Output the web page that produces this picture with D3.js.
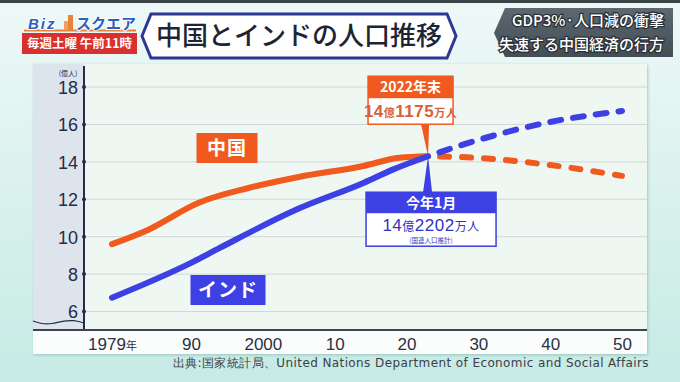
<!DOCTYPE html>
<html>
<head>
<meta charset="utf-8">
<script src="https://cdn.jsdelivr.net/npm/d3@7"></script>
<style>
  body { margin: 0; background: #d9f0ec; }
  svg { display: block; }
</style>
</head>
<body>
<svg id="chart" width="680" height="382"></svg>
<script>
// data (億人)
const chinaYears = [1979, 1984, 1991, 1998, 2005, 2014, 2019, 2023];
const chinaValues = [9.6, 10.36, 11.8, 12.6, 13.19, 13.78, 14.22, 14.3];
const indiaYears = [1979, 1990, 1994, 2005, 2014, 2018, 2023];
const indiaValues = [6.74, 8.6, 9.4, 11.5, 12.87, 13.57, 14.3];
const chinaProjYears = [2023, 2030, 2040, 2050];
const chinaProjValues = [14.3, 14.21, 13.83, 13.25];
const indiaProjYears = [2023, 2030, 2040, 2050];
const indiaProjValues = [14.3, 15.17, 16.13, 16.72];
const xTicks = [1979, 1990, 2000, 2010, 2020, 2030, 2040, 2050];
const xTickLabels = ["1979", "90", "2000", "10", "20", "30", "40", "50"];
const yTicks = [6, 8, 10, 12, 14, 16, 18];
const crossYear = 2023, crossValue = 14.3;

const ORANGE = "#f05a1e", BLUE = "#3d40e2", NAVY = "#262c48";
const JP = "'Noto Sans CJK JP', sans-serif";
const NUM = "'Liberation Sans', Arial, sans-serif";

const svg = d3.select("#chart");
const defs = svg.append("defs");

// background
const bg = defs.append("linearGradient").attr("id", "bg").attr("x1", 0).attr("y1", 0).attr("x2", 0).attr("y2", 1);
bg.append("stop").attr("offset", 0).attr("stop-color", "#eef8f7");
bg.append("stop").attr("offset", 1).attr("stop-color", "#c6ebe4");
svg.append("rect").attr("width", 680).attr("height", 382).attr("fill", "url(#bg)");
svg.append("rect").attr("width", 680).attr("height", 3).attr("fill", "#3a4446");

const sh = defs.append("filter").attr("id", "shadow").attr("x", -0.05).attr("y", -0.05).attr("width", 1.1).attr("height", 1.1);
sh.append("feDropShadow").attr("dx", 1).attr("dy", 1).attr("stdDeviation", 1.5).attr("flood-color", "#7aa9a3").attr("flood-opacity", 0.6);

// panel
const panel = { left: 33, right: 647, top: 64, axis: 330, bottom: 354 };
svg.append("rect").attr("x", panel.left).attr("y", panel.top)
  .attr("width", panel.right - panel.left).attr("height", panel.bottom - panel.top)
  .attr("fill", "#fbfdfc").attr("filter", "url(#shadow)");
svg.append("rect").attr("x", 84).attr("y", panel.top)
  .attr("width", panel.right - 84).attr("height", panel.axis - panel.top)
  .attr("fill", "#eff7f3");
svg.append("rect").attr("x", panel.left).attr("y", panel.top)
  .attr("width", 84 - panel.left).attr("height", panel.axis - panel.top)
  .attr("fill", "#dde4ec");

const x = d3.scaleLinear().domain([1979, 2050]).range([112, 622]);
const y = d3.scaleLinear().domain([6, 18]).range([311.5, 87]);

// grid
svg.append("g").selectAll("line").data(yTicks).join("line")
  .attr("x1", 84).attr("x2", panel.right)
  .attr("y1", d => y(d)).attr("y2", d => y(d))
  .attr("stroke", "#cfd6d6").attr("stroke-width", 1);

// y axis
const yAxis = svg.append("g").attr("transform", "translate(84,0)")
  .call(d3.axisLeft(y).tickValues(yTicks).tickSize(0).tickPadding(6));
yAxis.select(".domain").remove();
yAxis.selectAll("text").attr("font-family", NUM).attr("font-size", 18)
  .attr("fill", NAVY).attr("dy", "0.36em");
svg.append("g").selectAll("circle").data(yTicks).join("circle")
  .attr("cx", 84).attr("cy", d => y(d)).attr("r", 2).attr("fill", NAVY);
svg.append("line").attr("x1", 84).attr("x2", 84).attr("y1", panel.top + 2).attr("y2", panel.axis)
  .attr("stroke", NAVY).attr("stroke-width", 2);
svg.append("text").attr("x", 68).attr("y", 76).attr("text-anchor", "middle")
  .attr("font-family", JP).attr("font-size", 7).attr("fill", NAVY).text("(億人)");

// break wave
svg.append("path")
  .attr("d", d3.line().curve(d3.curveBasis)([[33, 321], [42, 324], [52, 324], [62, 321], [74, 320], [84, 323]]))
  .attr("fill", "none").attr("stroke", NAVY).attr("stroke-width", 1.2);

// x axis
svg.append("line").attr("x1", panel.left).attr("x2", panel.right).attr("y1", panel.axis).attr("y2", panel.axis)
  .attr("stroke", "#3d4552").attr("stroke-width", 2);
const xAxis = svg.append("g").attr("transform", `translate(0,${panel.axis})`)
  .call(d3.axisBottom(x).tickValues(xTicks).tickSize(0).tickPadding(8)
    .tickFormat((d, i) => xTickLabels[i]));
xAxis.select(".domain").remove();
xAxis.selectAll("text").attr("font-family", NUM).attr("font-size", 17).attr("fill", "#2b3040");
xAxis.selectAll("text").filter(d => d === 1979).each(function () {
  const t = d3.select(this).text("");
  t.append("tspan").text("1979");
  t.append("tspan").attr("font-family", JP).attr("font-size", 11).text("年");
});

// lines
const line = d3.line().x(d => x(d[0])).y(d => y(d[1])).curve(d3.curveMonotoneX);
const china = d3.zip(chinaYears, chinaValues);
const india = d3.zip(indiaYears, indiaValues);
const chinaProj = d3.zip(chinaProjYears, chinaProjValues);
const indiaProj = d3.zip(indiaProjYears, indiaProjValues);

svg.append("path").attr("d", line(chinaProj)).attr("fill", "none").attr("stroke", ORANGE)
  .attr("stroke-width", 6).attr("stroke-linecap", "round").attr("stroke-dasharray", "9 13")
  .attr("stroke-dashoffset", -12);
svg.append("path").attr("d", line(indiaProj)).attr("fill", "none").attr("stroke", BLUE)
  .attr("stroke-width", 6).attr("stroke-linecap", "round").attr("stroke-dasharray", "11 12")
  .attr("stroke-dashoffset", -12);
svg.append("path").attr("d", line(china)).attr("fill", "none").attr("stroke", ORANGE)
  .attr("stroke-width", 6).attr("stroke-linecap", "round");
svg.append("path").attr("d", line(india)).attr("fill", "none").attr("stroke", BLUE)
  .attr("stroke-width", 6).attr("stroke-linecap", "round");

// series labels
function tag(cx, cy, w, h, fill, label) {
  svg.append("rect").attr("x", cx - w / 2).attr("y", cy - h / 2).attr("width", w).attr("height", h).attr("fill", fill);
  svg.append("text").attr("x", cx).attr("y", cy).attr("dy", "0.36em").attr("text-anchor", "middle")
    .attr("font-family", JP).attr("font-weight", 700).attr("font-size", 19).attr("fill", "#fff")
    .attr("letter-spacing", 1).text(label);
}
tag(227, 148, 61, 30, ORANGE, "中国");
tag(228, 290, 75, 30, BLUE, "インド");

// annotations
const cx = x(crossYear), cy = y(crossValue);
const ob = { x: cx - 60, y: cy - 80, w: 85, hh: 22, bh: 26 };
svg.append("path").attr("d", `M${cx - 7},${ob.y + ob.hh + ob.bh} L${cx + 1},${ob.y + ob.hh + ob.bh} L${cx},${cy} Z`).attr("fill", ORANGE);
svg.append("rect").attr("x", ob.x).attr("y", ob.y).attr("width", ob.w).attr("height", ob.hh + ob.bh)
  .attr("fill", "#fff").attr("stroke", ORANGE).attr("stroke-width", 1.5);
svg.append("rect").attr("x", ob.x).attr("y", ob.y).attr("width", ob.w).attr("height", ob.hh).attr("fill", ORANGE);
svg.append("text").attr("x", ob.x + ob.w / 2).attr("y", ob.y + ob.hh / 2).attr("dy", "0.36em")
  .attr("text-anchor", "middle").attr("font-family", JP).attr("font-weight", 700).attr("font-size", 14)
  .attr("fill", "#fff").text("2022年末");
const ot = svg.append("text").attr("x", ob.x + ob.w / 2).attr("y", ob.y + ob.hh + ob.bh / 2).attr("dy", "0.36em")
  .attr("text-anchor", "middle").attr("font-family", NUM).attr("font-weight", 700).attr("fill", "#d8603a")
  .attr("letter-spacing", 0.5);
ot.append("tspan").attr("font-size", 17).text("14");
ot.append("tspan").attr("font-family", JP).attr("font-size", 11).text("億");
ot.append("tspan").attr("font-size", 17).text("1175");
ot.append("tspan").attr("font-family", JP).attr("font-size", 11).text("万人");

const bb = { x: cx - 62, y: cy + 36, w: 130, hh: 21, bh: 33 };
svg.append("path").attr("d", `M${cx},${cy} L${cx - 5},${bb.y} L${cx + 4},${bb.y} Z`).attr("fill", BLUE);
svg.append("rect").attr("x", bb.x).attr("y", bb.y).attr("width", bb.w).attr("height", bb.hh + bb.bh)
  .attr("fill", "#fff").attr("stroke", BLUE).attr("stroke-width", 1.5);
svg.append("rect").attr("x", bb.x).attr("y", bb.y).attr("width", bb.w).attr("height", bb.hh).attr("fill", BLUE);
svg.append("text").attr("x", bb.x + bb.w / 2).attr("y", bb.y + bb.hh / 2).attr("dy", "0.36em")
  .attr("text-anchor", "middle").attr("font-family", JP).attr("font-weight", 700).attr("font-size", 14)
  .attr("fill", "#fff").text("今年1月");
const bt = svg.append("text").attr("x", bb.x + bb.w / 2).attr("y", bb.y + bb.hh + 18)
  .attr("text-anchor", "middle").attr("font-family", NUM).attr("fill", "#2f34c0").attr("letter-spacing", 0.5);
bt.append("tspan").attr("font-size", 17).text("14");
bt.append("tspan").attr("font-family", JP).attr("font-size", 12).text("億");
bt.append("tspan").attr("font-size", 17).text("2202");
bt.append("tspan").attr("font-family", JP).attr("font-size", 12).text("万人");
svg.append("text").attr("x", bb.x + bb.w / 2).attr("y", bb.y + bb.hh + bb.bh - 3)
  .attr("text-anchor", "middle").attr("font-family", JP).attr("font-size", 6.5).attr("fill", "#2f34c0")
  .text("(国連人口推計)");

// source
svg.append("text").attr("x", 649).attr("y", 367).attr("text-anchor", "end")
  .attr("font-family", "'DejaVu Sans', sans-serif").attr("font-size", 12).attr("letter-spacing", 0.4)
  .attr("fill", "#3a4048")
  .text("出典:国家統計局、United Nations Department of Economic and Social Affairs");

// header: logo
svg.append("line").attr("x1", 24).attr("x2", 136).attr("y1", 30.5).attr("y2", 30.5).attr("stroke", "#e8843a").attr("stroke-width", 2);
svg.append("text").attr("x", 28).attr("y", 29).attr("font-family", NUM).attr("font-weight", 700)
  .attr("font-style", "italic").attr("font-size", 15).attr("fill", "#2d5fc0").attr("letter-spacing", 2)
  .attr("stroke", "#fff").attr("stroke-width", 2).attr("paint-order", "stroke").text("Biz");
svg.append("rect").attr("x", 68).attr("y", 15).attr("width", 5).attr("height", 15).attr("fill", "#e8843a");
svg.append("rect").attr("x", 64).attr("y", 21).attr("width", 4).attr("height", 9).attr("fill", "#f0a060");
svg.append("text").attr("x", 76).attr("y", 29).attr("font-family", JP).attr("font-weight", 700)
  .attr("font-size", 15).attr("fill", "#2d5fc0").attr("stroke", "#fff").attr("stroke-width", 2)
  .attr("paint-order", "stroke").text("スクエア");
svg.append("rect").attr("x", 22).attr("y", 33).attr("width", 115).attr("height", 21).attr("fill", "#d9312f");
svg.append("text").attr("x", 79.5).attr("y", 43.5).attr("dy", "0.36em").attr("text-anchor", "middle")
  .attr("font-family", JP).attr("font-weight", 700).attr("font-size", 12.5).attr("fill", "#fff")
  .text("毎週土曜 午前11時");

// header: title
svg.append("path").attr("d", "M142,36 L151,14 L447,14 L456,36 L447,58 L151,58 Z")
  .attr("fill", "#fff").attr("stroke", "#2b3a90").attr("stroke-width", 3);
svg.append("text").attr("x", 299).attr("y", 36).attr("dy", "0.36em").attr("text-anchor", "middle")
  .attr("font-family", JP).attr("font-weight", 500).attr("font-size", 26).attr("fill", "#1e2433")
  .text("中国とインドの人口推移");

// header: right caption
const rg = defs.append("linearGradient").attr("id", "rg").attr("x1", 0).attr("y1", 0).attr("x2", 0).attr("y2", 1);
rg.append("stop").attr("offset", 0).attr("stop-color", "#5d6870");
rg.append("stop").attr("offset", 1).attr("stop-color", "#434d55");
svg.append("path").attr("d", "M494,33 L505,8 L673,8 L673,57 L505,57 Z").attr("fill", "url(#rg)");
[["GDP3%·人口減の衝撃", 21], ["失速する中国経済の行方", 45]].forEach(([t, yy]) => {
  svg.append("text").attr("x", 664).attr("y", yy).attr("dy", "0.36em").attr("text-anchor", "end")
    .attr("font-family", JP).attr("font-weight", 500).attr("font-size", 15).attr("fill", "#fff")
    .attr("stroke", "#2a3036").attr("stroke-width", 2.5).attr("paint-order", "stroke").text(t);
});
</script>
</body>
</html>
